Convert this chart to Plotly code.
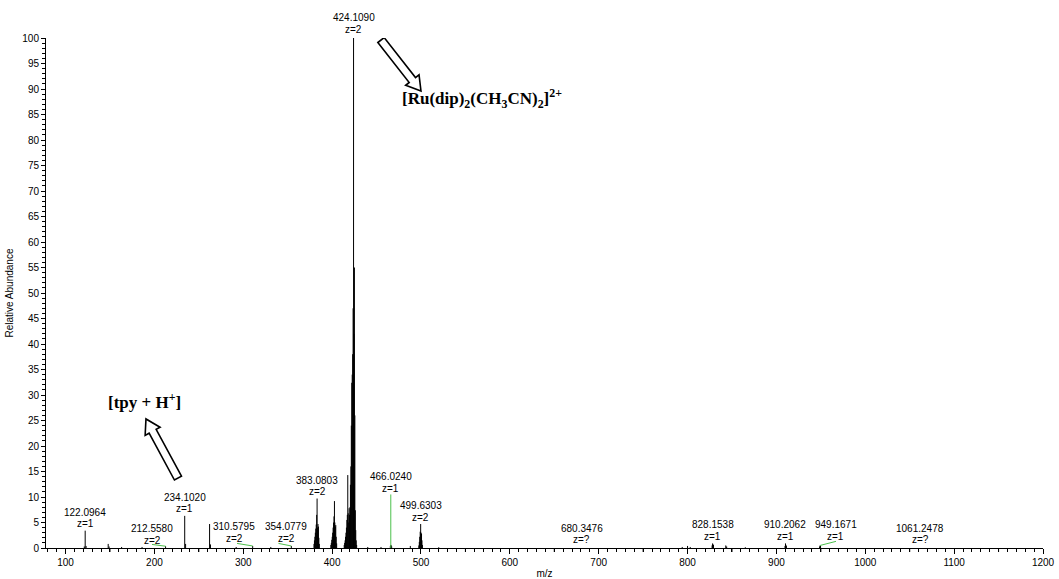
import plotly.graph_objects as go

# ---------------------------------------------------------------- data
# centroid peaks (m/z, relative abundance %)
peak_mz = [
    121.1, 122.0964, 123.1, 148.0, 149.0, 163.1, 186.1, 212.558,
    234.102, 235.1, 262.1, 263.1, 292.0, 310.5795, 331.0, 354.0779,
    379.6, 380.1, 380.6, 381.1, 381.6, 382.1, 382.6, 383.0803, 383.6, 384.1, 384.6, 385.1, 385.6,
    398.6, 399.1, 399.6, 400.1, 400.6, 401.1, 401.6, 402.1, 402.6, 403.1, 403.6, 404.1, 404.6, 405.1,
    413.6, 414.1, 414.6, 415.1, 415.6, 416.1, 416.6, 417.1, 417.6, 418.1, 418.6, 419.1, 419.6,
    420.1, 420.6, 421.1, 421.6, 422.1, 422.6, 423.1, 423.6, 424.109, 424.6, 425.1, 425.6,
    426.1, 426.6, 427.1, 427.6,
    440.1, 455.0, 465.5, 466.0, 466.5, 467.0, 488.0,
    497.6, 498.1, 498.6, 499.1, 499.6303, 500.1, 500.6, 501.1, 501.6,
    520.0, 794.0, 800.0, 803.0, 827.6, 828.1538, 828.65, 829.15, 843.0, 844.0, 865.0,
    909.7, 910.2062, 910.7, 911.2, 948.6, 949.1671, 949.67,
]
peak_int = [
    0.3, 3.4, 0.4, 0.8, 0.3, 0.2, 0.2, 0.35,
    6.3, 0.8, 4.7, 0.7, 0.2, 0.4, 0.2, 0.4,
    0.8, 1.5, 2.2, 3.0, 3.8, 4.6, 6.5, 9.7, 4.0, 4.7, 4.2, 2.0, 0.8,
    0.6, 1.0, 1.6, 2.2, 3.0, 4.0, 5.0, 6.2, 9.2, 5.0, 4.2, 4.5, 2.2, 0.9,
    0.6, 1.0, 1.5, 2.2, 3.0, 4.0, 5.5, 6.5, 14.3, 6.8, 5.0, 7.8, 6.5,
    8.0, 12.4, 16.0, 24.0, 32.4, 34.0, 38.0, 47.0, 100.0, 42.0, 55.0, 26.0,
    7.4, 3.5, 1.5, 0.6,
    0.2, 0.2, 0.4, 0.6, 0.5, 0.3, 0.4,
    0.5, 1.2, 2.2, 3.2, 4.7, 3.0, 2.8, 1.5, 0.6,
    0.15, 0.2, 0.4, 0.2, 0.5, 0.9, 0.7, 0.6, 0.5, 0.3, 0.15,
    0.4, 0.9, 0.6, 0.4, 0.3, 0.5, 0.4,
]

# highlighted (green) peak
green_mz = [466.024]
green_int = [10.5]

# peak annotations
label_mass = ["122.0964", "212.5580", "234.1020", "310.5795", "354.0779", "383.0803", "424.1090",
              "466.0240", "499.6303", "680.3476", "828.1538", "910.2062", "949.1671", "1061.2478"]
label_charge = ["z=1", "z=2", "z=1", "z=2", "z=2", "z=2", "z=2",
                "z=1", "z=2", "z=?", "z=1", "z=1", "z=1", "z=?"]
label_x = [122.0964, 197.3, 234.102, 289.6, 348.4, 383.0803, 424.109,
           466.024, 499.6303, 680.8, 828.1538, 910.2062, 966.6, 1061.8]
label_y = [3.4, 0.1, 6.3, 0.53, 0.53, 9.7, 100.0,
           10.3, 4.7, 0.24, 0.92, 0.92, 0.92, 0.24]
# extra vertical offset (px) for the label above the base peak
label_lift = [0, 0, 0, 0, 0, 0, 2, 0, 0, 0, 0, 0, 0, 0]

# leader lines from displaced labels to their peaks
leader_from_x = [197.3, 293.0, 339.6, 967.0]
leader_from_y = [0.7, 0.9, 0.9, 1.3]
leader_to_x = [212.558, 310.5795, 354.0779, 949.1671]
leader_to_y = [0.35, 0.4, 0.4, 0.5]

# hollow block arrows: (tail x, tail y, tip x, tip y) in data units
arrows = [
    (455.0, 99.6, 500.0, 89.6),
    (226.5, 13.7, 190.5, 25.3),
]

# x-axis tick positions
x_label_ticks = list(range(100, 1201, 100))
x_half_ticks = list(range(150, 1200, 100))

# ---------------------------------------------------------------- layout constants
W, H = 1059, 579
ML, MR, MT, MB = 46, 16, 38, 31
X0, X1 = 78, 1200
Y0, Y1 = 0, 100
PW, PH = W - ML - MR, H - MT - MB
SX, SY = PW / (X1 - X0), PH / (Y1 - Y0)

SANS = "Arial, Liberation Sans, Helvetica, sans-serif"
SERIF = "Times New Roman, Liberation Serif, serif"
GREEN = "#4cc04c"


def sticks(xs, ys):
    px, py = [], []
    for x, y in zip(xs, ys):
        px += [x, x, None]
        py += [0, y, None]
    return px, py


fig = go.Figure()

sx_, sy_ = sticks(peak_mz, peak_int)
fig.add_trace(go.Scatter(x=sx_, y=sy_, mode="lines", line=dict(color="black", width=1),
                         hoverinfo="skip", showlegend=False, cliponaxis=False))
gx_, gy_ = sticks(green_mz, green_int)
fig.add_trace(go.Scatter(x=gx_, y=gy_, mode="lines", line=dict(color=GREEN, width=1),
                         hoverinfo="skip", showlegend=False))

shapes = []
for x0, y0, x1, y1 in zip(leader_from_x, leader_from_y, leader_to_x, leader_to_y):
    shapes.append(dict(type="line", xref="x", yref="y", x0=x0, y0=y0, x1=x1, y1=y1,
                       line=dict(color=GREEN, width=1)))

# medium-length ticks halfway between labelled ticks
for v in x_half_ticks:
    shapes.append(dict(type="line", xref="x", yref="paper", ysizemode="pixel", yanchor=0,
                       x0=v, x1=v, y0=0, y1=-4, line=dict(color="black", width=1)))


def to_px(x, y):
    return (x - X0) * SX, (Y1 - y) * SY


def to_data(px, py):
    return X0 + px / SX, Y1 - py / SY


def block_arrow(tail, tip, shaft=4.0, head=8.5, head_len=14.0):
    tx, ty = to_px(*tail)
    hx, hy = to_px(*tip)
    dx, dy = hx - tx, hy - ty
    n = (dx * dx + dy * dy) ** 0.5
    ux, uy = dx / n, dy / n
    nx, ny = -uy, ux
    bx, by = hx - ux * head_len, hy - uy * head_len
    pts = [
        (tx + nx * shaft, ty + ny * shaft),
        (bx + nx * shaft, by + ny * shaft),
        (bx + nx * head, by + ny * head),
        (hx, hy),
        (bx - nx * head, by - ny * head),
        (bx - nx * shaft, by - ny * shaft),
        (tx - nx * shaft, ty - ny * shaft),
    ]
    d = [to_data(px, py) for px, py in pts]
    return "M " + " L ".join(f"{a:.3f},{b:.4f}" for a, b in d) + " Z"


for tx, ty, hx, hy in arrows:
    shapes.append(dict(type="path", xref="x", yref="y", path=block_arrow((tx, ty), (hx, hy)),
                       fillcolor="white", line=dict(color="black", width=1.6), layer="above"))

annotations = []
for m, z, x, y, lift in zip(label_mass, label_charge, label_x, label_y, label_lift):
    annotations.append(dict(x=x, y=y, text=m, showarrow=False, xanchor="center", yanchor="middle",
                            yshift=18.5 + lift, font=dict(family=SANS, size=10, color="black")))
    annotations.append(dict(x=x, y=y, text=z, showarrow=False, xanchor="center", yanchor="middle",
                            yshift=7 + lift, font=dict(family=SANS, size=10, color="black")))

annotations.append(dict(x=189.4, y=28.8, text="[tpy + H<sup>+</sup>]", showarrow=False,
                        xanchor="center", yanchor="middle",
                        font=dict(family=SERIF, size=17, color="black", weight="bold")))
annotations.append(dict(x=476.4, y=88.2,
                        text="[Ru(dip)<sub>2</sub>(CH<sub>3</sub>CN)<sub>2</sub>]<sup>2+</sup>",
                        showarrow=False, xanchor="left", yanchor="middle",
                        font=dict(family=SERIF, size=17, color="black", weight="bold")))

fig.update_layout(
    width=W, height=H,
    margin=dict(l=ML, r=MR, t=MT, b=MB, pad=0),
    paper_bgcolor="white", plot_bgcolor="white",
    font=dict(family=SANS, size=10, color="black"),
    shapes=shapes, annotations=annotations,
    xaxis=dict(
        range=[X0, X1], showgrid=False, zeroline=False,
        showline=True, linecolor="black", linewidth=1,
        tickmode="array", tickvals=x_label_ticks, ticktext=[str(v) for v in x_label_ticks],
        ticks="outside", ticklen=5, tickwidth=1, tickcolor="black",
        tickfont=dict(family=SANS, size=10),
        minor=dict(dtick=10, tick0=0, ticks="outside", ticklen=3, tickcolor="black", tickwidth=1),
        title=dict(text="m/z", font=dict(family=SANS, size=10), standoff=2),
        automargin=False,
    ),
    yaxis=dict(
        range=[Y0, Y1], showgrid=False, zeroline=False,
        showline=True, linecolor="black", linewidth=1,
        dtick=5, tick0=0,
        ticks="outside", ticklen=4, tickwidth=1, tickcolor="black",
        tickfont=dict(family=SANS, size=10),
        minor=dict(dtick=1, tick0=0, ticks="outside", ticklen=3, tickcolor="black", tickwidth=1),
        title=dict(text="Relative Abundance", font=dict(family=SANS, size=10), standoff=6),
        automargin=False,
    ),
)

fig.write_html("out.html")
